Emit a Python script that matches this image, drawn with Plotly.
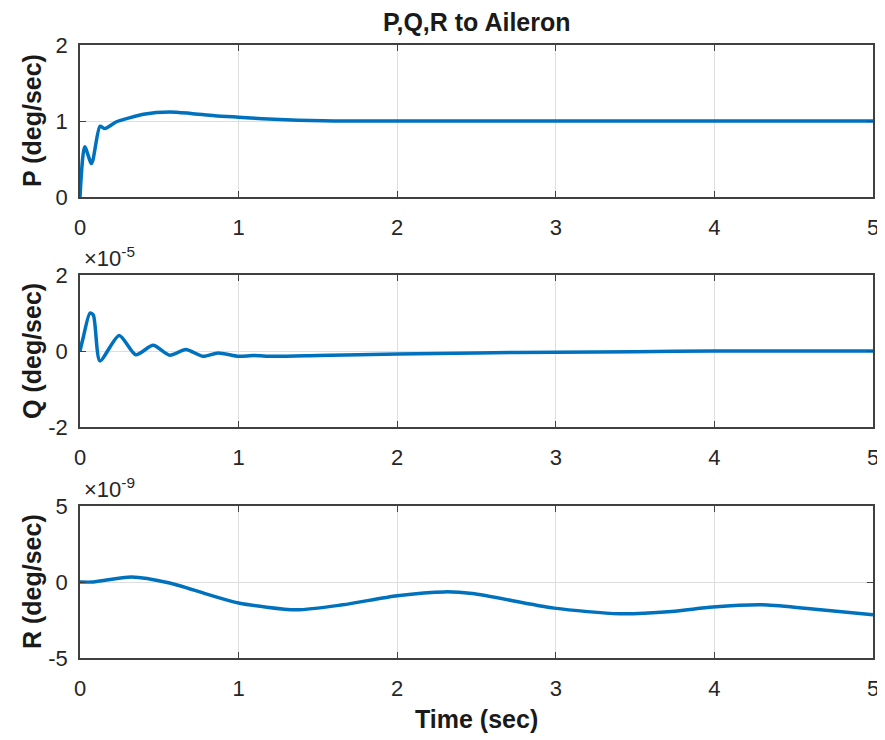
import plotly.graph_objects as go

# ---- data ----
p_time = [0, 0.03, 0.073, 0.126, 0.157, 0.23, 0.3, 0.4, 0.566, 0.7, 0.85, 1.0, 1.15, 1.3, 1.45, 1.6, 2.0, 3.0, 4.0, 5.0]
p_vals = [0, 0.66, 0.44, 0.93, 0.90, 0.99, 1.035, 1.09, 1.12, 1.10, 1.07, 1.05, 1.03, 1.015, 1.005, 1.0, 1.0, 1.0, 1.0, 1.0]

q_time = [0, 0.02, 0.063, 0.084, 0.126, 0.247, 0.352, 0.461, 0.566, 0.667, 0.776, 0.87, 1.0,
          1.09, 1.22, 1.5, 2.0, 2.5, 3.0, 3.5, 4.0, 4.5, 5.0]
q_vals = [0, 0.35, 1.0, 0.95, -0.26, 0.41, -0.10, 0.15, -0.11, 0.04, -0.14, -0.05, -0.14,
          -0.12, -0.14, -0.12, -0.08, -0.05, -0.03, -0.02, 0.0, 0.0, 0.0]   # x 1e-5

r_time = [0, 0.084, 0.325, 0.566, 0.8, 1.0, 1.363, 1.656, 2.0, 2.3, 2.474, 2.99, 3.40, 3.73, 3.99, 4.30, 4.57, 5.0]
r_vals = [0, 0.0, 0.33, -0.07, -0.80, -1.38, -1.83, -1.50, -0.90, -0.65, -0.76, -1.72, -2.09, -1.94, -1.65, -1.50, -1.72, -2.16]  # x 1e-9

x_ticks = [0, 1, 2, 3, 4, 5]
p_ticks = [0, 1, 2]
q_ticks = [-2, 0, 2]
r_ticks = [-5, 0, 5]

title_text = "P,Q,R to Aileron"
x_title = "Time (sec)"
y_titles = ["P (deg/sec)", "Q (deg/sec)", "R (deg/sec)"]
exponents = [None, "-5", "-9"]

# ---- figure (page has an 8px body margin, so work in page pixels and shift) ----
OFF = 8
W, H = 877, 732
PL, PR = 80, 873          # plot left/right in page pixels
PT, PB = 45, 658          # plot top/bottom in page pixels
L, R = PL - OFF, W - (PR - OFF)
T, B = PT - OFF, H - (PB - OFF)
pw, ph = PR - PL, PB - PT
LINE = "#0072BD"
AX = "#404040"
GRID = "#dedede"
FONT = "Liberation Sans, Arial, Helvetica, sans-serif"

def px(x):
    return (x - PL) / pw

def py(y):
    return (PB - y) / ph

domains = [[py(197), py(45)], [py(427), py(275)], [py(658), py(506)]]
series = [(p_time, p_vals, p_ticks), (q_time, q_vals, q_ticks), (r_time, r_vals, r_ticks)]

fig = go.Figure()
for i, (t, v, yt) in enumerate(series):
    n = "" if i == 0 else str(i + 1)
    fig.add_trace(go.Scatter(x=t, y=v, mode="lines", xaxis="x" + n, yaxis="y" + n,
                             line=dict(color=LINE, width=3.5, shape="spline", smoothing=0.7),
                             showlegend=False, hoverinfo="skip"))
    common = dict(showline=True, linecolor=AX, linewidth=1.5, mirror="ticks",
                  ticks="inside", ticklen=6, tickwidth=1.2, tickcolor=AX,
                  showgrid=True, gridcolor=GRID, gridwidth=1, zeroline=False,
                  tickfont=dict(family=FONT, size=22, color="#262626"))
    fig.layout["xaxis" + n] = dict(domain=[0, 1], range=[0, 5], tickmode="array",
                                   tickvals=x_ticks, ticktext=[str(k) for k in x_ticks],
                                   anchor="y" + n, ticklabelstandoff=10, **common)
    fig.layout["yaxis" + n] = dict(domain=domains[i], range=[yt[0], yt[-1]], tickmode="array",
                                   tickvals=yt, ticktext=[str(k) for k in yt],
                                   anchor="x" + n, ticklabelstandoff=6, **common)

annotations = []
annotations.append(dict(text="<b>" + title_text + "</b>", xref="paper", yref="paper",
                        x=px(476.5), y=py(22), xanchor="center", yanchor="middle",
                        showarrow=False, font=dict(family=FONT, size=25, color="#1a1a1a")))
annotations.append(dict(text="<b>" + x_title + "</b>", xref="paper", yref="paper",
                        x=px(476.5), y=py(719), xanchor="center", yanchor="middle",
                        showarrow=False, font=dict(family=FONT, size=25, color="#1a1a1a")))
centers = [121, 351, 582]
for i, yt in enumerate(y_titles):
    annotations.append(dict(text="<b>" + yt + "</b>", xref="paper", yref="paper",
                            x=px(32), y=py(centers[i]),
                            xanchor="center", yanchor="middle", textangle=-90,
                            showarrow=False, font=dict(family=FONT, size=25, color="#1a1a1a")))
tops = [None, 275, 506]
for i, e in enumerate(exponents):
    if e is None:
        continue
    annotations.append(dict(text="\u00d710<sup>" + e + "</sup>", xref="paper", yref="paper",
                            x=px(82), y=py(tops[i] - 2),
                            xanchor="left", yanchor="bottom", showarrow=False,
                            font=dict(family=FONT, size=22, color="#262626")))

fig.update_layout(width=W, height=H, margin=dict(l=L, r=R, t=T, b=B, autoexpand=False),
                  paper_bgcolor="white", plot_bgcolor="white", annotations=annotations)

fig.write_html("out.html")
